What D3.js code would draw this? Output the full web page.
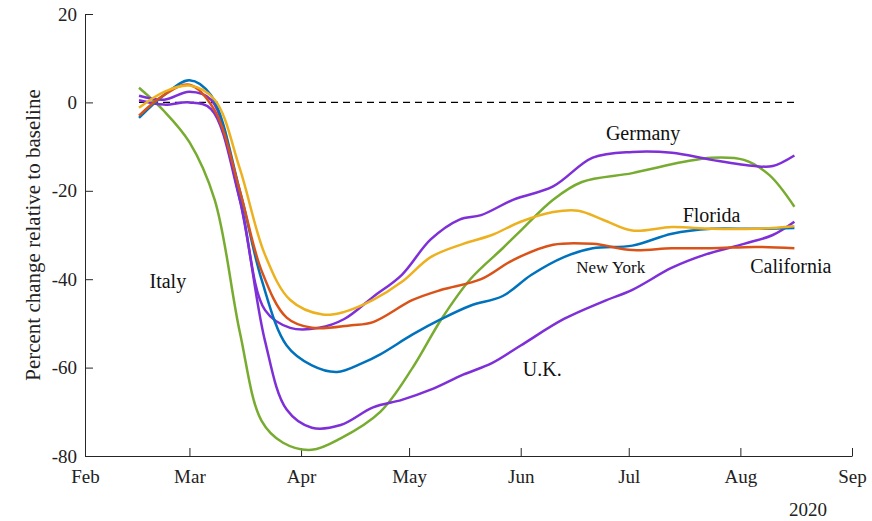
<!DOCTYPE html>
<html><head><meta charset="utf-8">
<script src="https://cdn.jsdelivr.net/npm/d3@7"></script>
<style>
body{margin:0;background:#fff;}
text{font-family:"Liberation Serif","Times New Roman",serif;}
</style></head>
<body><div id="chart"></div>
<script>
// days after Feb 1 2020, and percent change
var italyDays = [15,22,29,36,43,49,55,63,71,82,91,99,107,116,121,130,138,152,166,174,183,190,197];
var italyVals = [3.3,-2,-9,-22,-52,-72,-77,-78.6,-76,-70,-60,-49,-40,-33,-29,-22,-18,-16,-13.5,-12.5,-13,-16.4,-23.6];
var germanyDays = [15,22,29,35,43,50,57,65,72,80,88,96,104,110,119,130,141,152,163,174,186,191,197];
var germanyVals = [0.5,-0.5,0,-1.5,-22,-47,-51,-51,-49,-44,-39,-31,-26.5,-25.5,-22,-19,-12.5,-11.2,-11.4,-13,-14.4,-14.4,-12];
var ukDays = [15,22,29,35,43,50,56,63,71,80,88,96,105,113,121,133,144,152,163,172,183,191,197];
var ukVals = [1.5,0.6,2.4,0.6,-22,-54,-69.5,-73.6,-73,-69,-67.3,-65,-61.6,-59,-55,-49,-45,-42.4,-37.4,-34.5,-32,-30,-27];
var nyDays = [15,22,29,35,43,49,56,63,70,77,82,91,99,107,116,124,133,141,152,163,174,186,197];
var nyVals = [-3.5,1.7,5,1.6,-20,-40,-55,-59.5,-61,-59,-57,-52.5,-49,-46,-43.8,-39,-35,-33,-32.4,-29.7,-28.6,-28.6,-28.4];
var caDays = [15,22,29,36,43,49,56,63,74,80,91,99,110,119,130,141,152,163,174,186,197];
var caVals = [-3,1.7,4,-1.8,-20,-38,-48.7,-51,-50.4,-49.7,-44.7,-42.4,-40,-35.6,-32.2,-32,-33.4,-33,-33,-32.7,-33];
var flDays = [15,22,29,36,43,50,57,66,72,80,88,96,105,113,121,130,137,144,152,163,174,186,197];
var flVals = [-1.2,2.4,3.8,0.6,-15,-34.5,-44.7,-48,-47.4,-44.7,-40.6,-35,-32,-30,-27,-24.8,-24.5,-26.6,-29,-28.2,-28.6,-28.6,-28];

var seriesNames = ["Italy","Germany","U.K.","New York","California","Florida"];
var seriesDays = [italyDays,germanyDays,ukDays,nyDays,caDays,flDays];
var seriesVals = [italyVals,germanyVals,ukVals,nyVals,caVals,flVals];
var seriesColors = ["#77AC30","#7E2FD8","#7E2FD8","#0072BD","#D95319","#EDB120"];

var monthLabels = ["Feb","Mar","Apr","May","Jun","Jul","Aug","Sep"];
var yTicks = [-80,-60,-40,-20,0,20];

var labels = [
  {text:"Germany", day:155, val:-8.5, size:20},
  {text:"Florida", day:174, val:-27, size:20},
  {text:"New York", day:146, val:-38.7, size:17},
  {text:"California", day:196, val:-38.7, size:20},
  {text:"Italy", day:23, val:-42, size:20},
  {text:"U.K.", day:127, val:-62, size:20}
];

var W = 872, H = 521;
var svg = d3.select("#chart").append("svg").attr("width",W).attr("height",H);

var x0 = new Date(2020,1,1);
var x = d3.scaleTime().domain([x0, new Date(2020,8,1)]).range([85,852]);
var y = d3.scaleLinear().domain([-80,20]).range([456,14]);
function dayToDate(d){ return d3.timeDay.offset(x0, d); }

var monthDates = monthLabels.map(function(m,i){ return new Date(2020,1+i,1); });

var xAxis = d3.axisBottom(x).tickValues(monthDates)
  .tickFormat(function(d,i){ return monthLabels[i]; })
  .tickSizeInner(-8).tickSizeOuter(0).tickPadding(14);
var gx = svg.append("g").attr("transform","translate(0,456)").call(xAxis);
var yAxis = d3.axisLeft(y).tickValues(yTicks).tickFormat(function(d){ return String(d); })
  .tickSizeInner(-8).tickSizeOuter(0).tickPadding(8);
var gy = svg.append("g").attr("transform","translate(85,0)").call(yAxis);
[gx,gy].forEach(function(g){
  g.selectAll("text").style("font-size","19px").attr("fill","#222")
   .style("font-family","'Liberation Serif',serif");
  g.selectAll("line,path").attr("stroke","#262626");
});

svg.append("text").attr("x",808).attr("y",516).attr("text-anchor","middle")
  .style("font-size","19px").attr("fill","#222").text("2020");

svg.append("text").attr("transform","translate(40,235) rotate(-90)")
  .attr("text-anchor","middle").style("font-size","21px").attr("fill","#222")
  .text("Percent change relative to baseline");

svg.append("line").attr("x1",x(dayToDate(15))).attr("x2",x(dayToDate(197)))
  .attr("y1",y(0)).attr("y2",y(0)).attr("stroke","#000").attr("stroke-width",1.3)
  .attr("stroke-dasharray","7,5");

var line = d3.line().curve(d3.curveCatmullRom.alpha(0.5))
  .x(function(d){ return x(dayToDate(d[0])); })
  .y(function(d){ return y(d[1]); });

seriesNames.forEach(function(name,i){
  var pts = seriesDays[i].map(function(d,j){ return [d, seriesVals[i][j]]; });
  svg.append("path").datum(pts).attr("d",line).attr("fill","none")
    .attr("stroke",seriesColors[i]).attr("stroke-width",2.5);
});

labels.forEach(function(l){
  svg.append("text").attr("x",x(dayToDate(l.day))).attr("y",y(l.val))
    .attr("text-anchor","middle").style("font-size",l.size+"px").attr("fill","#111").text(l.text);
});
</script></body></html>
